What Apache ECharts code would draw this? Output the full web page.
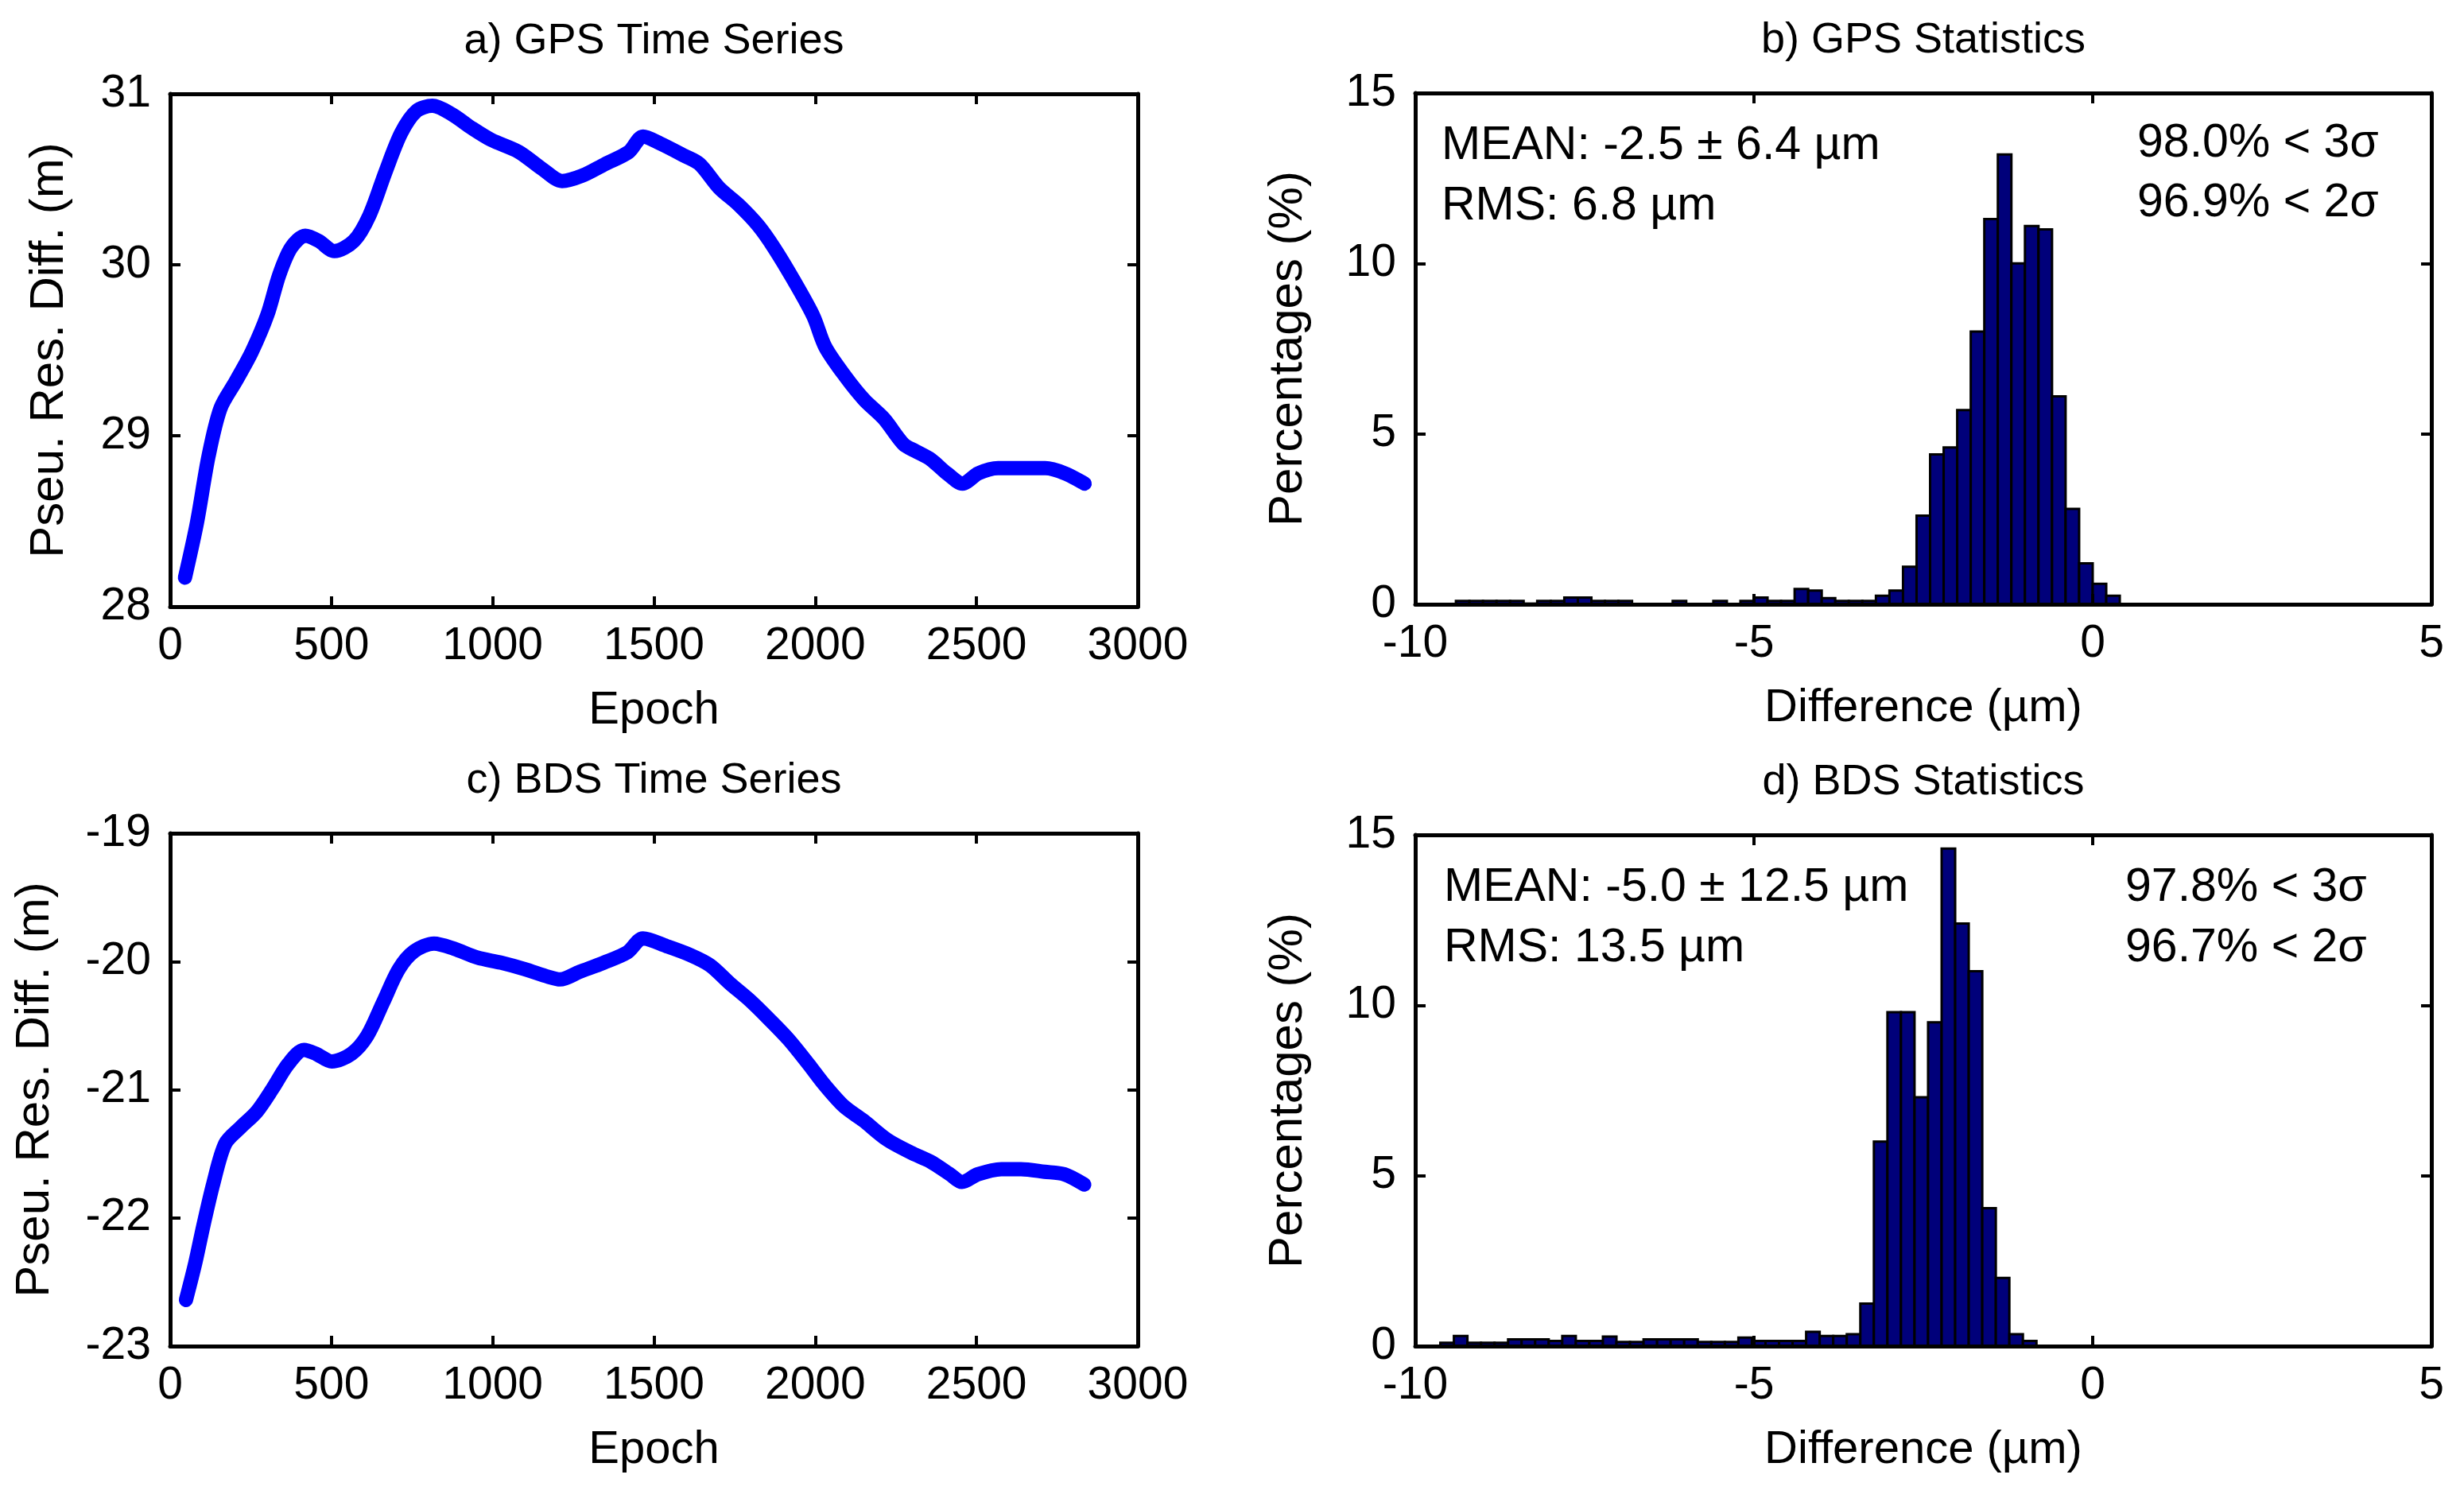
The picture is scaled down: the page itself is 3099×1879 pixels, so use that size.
<!DOCTYPE html>
<html>
<head>
<meta charset="utf-8">
<title>GPS / BDS pseudorange residual differences</title>
<script src="https://cdn.jsdelivr.net/npm/echarts@6/dist/echarts.min.js"></script>
<style>
  html, body { margin: 0; padding: 0; background: #fff; }
  #chart { width: 3099px; height: 1879px; }
</style>
</head>
<body>
<div id="chart"></div>
<script>
// ---- data ----
var gpsEpochs = [46, 83, 119, 156, 204, 253, 302, 338, 375, 419, 460, 509, 570, 618, 667, 716, 764, 813, 874, 935,
    996, 1081, 1154, 1215, 1276, 1349, 1422, 1466, 1519, 1592, 1641, 1702, 1763, 1823, 1872, 1933, 1994, 2031, 2092, 2152,
    2213, 2274, 2311, 2359, 2408, 2457, 2506, 2567, 2640, 2713, 2774, 2835];
var gpsDiff = [28.17, 28.49, 28.88, 29.16, 29.32, 29.49, 29.71, 29.94, 30.10, 30.17, 30.14, 30.08, 30.14, 30.29, 30.54, 30.77, 30.90, 30.93, 30.88, 30.80,
    30.73, 30.66, 30.56, 30.49, 30.52, 30.59, 30.66, 30.75, 30.71, 30.64, 30.59, 30.45, 30.35, 30.23, 30.10, 29.91, 29.70, 29.52, 29.35, 29.21,
    29.10, 28.95, 28.91, 28.86, 28.78, 28.72, 28.78, 28.81, 28.81, 28.81, 28.78, 28.72];

var bdsEpochs = [49, 78, 103, 134, 171, 220, 269, 318, 366, 415, 452, 501, 562, 611, 660, 709, 757, 818, 880, 953,
    1026, 1099, 1173, 1209, 1270, 1344, 1417, 1466, 1539, 1613, 1674, 1735, 1796, 1857, 1918, 1979, 2028, 2089, 2149, 2223,
    2296, 2357, 2418, 2455, 2504, 2577, 2638, 2711, 2772, 2834];
var bdsDiff = [-22.64, -22.35, -22.06, -21.73, -21.42, -21.29, -21.17, -20.99, -20.80, -20.69, -20.72, -20.78, -20.72, -20.58, -20.32, -20.06, -19.92, -19.86, -19.90, -19.97,
    -20.01, -20.06, -20.12, -20.14, -20.08, -20.01, -19.93, -19.82, -19.88, -19.95, -20.03, -20.17, -20.30, -20.45, -20.61, -20.80, -20.96, -21.13, -21.24, -21.39,
    -21.49, -21.56, -21.66, -21.72, -21.66, -21.62, -21.62, -21.64, -21.66, -21.74];

var BIN_WIDTH = 0.2;
var gpsBins = [-9.3, -9.1, -8.9, -8.7, -8.5, -8.3, -8.1, -7.9, -7.7, -7.5, -7.3, -7.1, -6.9, -6.7, -6.5, -6.3, -6.1,
    -5.9, -5.7, -5.5, -5.3, -5.1, -4.9, -4.7, -4.5, -4.3, -4.1, -3.9, -3.7, -3.5, -3.3, -3.1, -2.9,
    -2.7, -2.5, -2.3, -2.1, -1.9, -1.7, -1.5, -1.3, -1.1, -0.9, -0.7, -0.5, -0.3, -0.1, 0.1, 0.3];
var gpsPercent = [0.1, 0.1, 0.1, 0.1, 0.1, 0.02, 0.1, 0.1, 0.2, 0.2, 0.1, 0.1, 0.1, 0, 0, 0, 0.1,
    0, 0, 0.1, 0, 0.1, 0.2, 0.1, 0.1, 0.45, 0.4, 0.18, 0.1, 0.1, 0.1, 0.25, 0.4,
    1.1, 2.6, 4.4, 4.6, 5.7, 8.0, 11.3, 13.2, 10.0, 11.1, 11.0, 6.1, 2.8, 1.2, 0.6, 0.25];

var bdsBins = [-9.53, -9.33, -9.13, -8.93, -8.73, -8.53, -8.33, -8.13, -7.93, -7.73, -7.53, -7.33, -7.13, -6.93, -6.73,
    -6.53, -6.33, -6.13, -5.93, -5.73, -5.53, -5.33, -5.13, -4.93, -4.73, -4.53, -4.33, -4.13, -3.93, -3.73, -3.53,
    -3.33, -3.13, -2.93, -2.73, -2.53, -2.33, -2.13, -1.93, -1.73, -1.53, -1.33, -1.13, -0.93];
var bdsPercent = [0.1, 0.3, 0.1, 0.1, 0.1, 0.2, 0.2, 0.2, 0.15, 0.3, 0.15, 0.15, 0.28, 0.12, 0.12,
    0.2, 0.2, 0.2, 0.2, 0.12, 0.12, 0.12, 0.25, 0.15, 0.15, 0.15, 0.15, 0.42, 0.3, 0.3, 0.35,
    1.25, 6.0, 9.8, 9.8, 7.3, 9.5, 14.6, 12.4, 11.0, 4.05, 2.0, 0.35, 0.15];

var gpsStats = ['MEAN: -2.5 \u00b1 6.4 \u00b5m', 'RMS: 6.8 \u00b5m'];
var gpsSigma = ['98.0% < 3\u03c3', '96.9% < 2\u03c3'];
var bdsStats = ['MEAN: -5.0 \u00b1 12.5 \u00b5m', 'RMS: 13.5 \u00b5m'];
var bdsSigma = ['97.8% < 3\u03c3', '96.7% < 2\u03c3'];

var titles = ['a) GPS Time Series', 'b) GPS Statistics', 'c) BDS Time Series', 'd) BDS Statistics'];

// ---- layout ----
var FONT = '"Liberation Sans", Arial, Helvetica, sans-serif';
var grids = [
    { left: 214, top: 118, width: 1217, height: 645 },
    { left: 1780, top: 117, width: 1278, height: 643 },
    { left: 214, top: 1048, width: 1217, height: 645 },
    { left: 1780, top: 1050, width: 1278, height: 643 }
];

function zip(a, b) {
    var out = [];
    for (var i = 0; i < a.length; i++) out.push([a[i], b[i]]);
    return out;
}

// plain numbers, no thousands separator
function plain(v) { return String(v); }

var lineStyleAxis = { color: '#000', width: 5 };
var tickStyle = { show: true, inside: true, length: 13, lineStyle: { color: '#000', width: 4 } };

function xPair(gi, min, max, interval, name) {
    return [{
        type: 'value', gridIndex: gi, position: 'bottom', min: min, max: max, interval: interval,
        name: name, nameLocation: 'middle', nameGap: 102,
        nameTextStyle: { fontFamily: FONT, fontSize: 58, color: '#000' },
        axisLine: { show: true, onZero: false, lineStyle: lineStyleAxis },
        axisTick: tickStyle,
        axisLabel: { margin: 22, fontFamily: FONT, fontSize: 57, color: '#000', formatter: plain },
        splitLine: { show: false }, z: 5
    }, {
        type: 'value', gridIndex: gi, position: 'top', min: min, max: max, interval: interval,
        axisLine: { show: true, onZero: false, lineStyle: lineStyleAxis },
        axisTick: tickStyle, axisLabel: { show: false },
        splitLine: { show: false }, z: 5
    }];
}

function yPair(gi, min, max, interval, name, gap) {
    return [{
        type: 'value', gridIndex: gi, position: 'left', min: min, max: max, interval: interval,
        name: name, nameLocation: 'middle', nameGap: gap, nameRotate: 90,
        nameTextStyle: { fontFamily: FONT, fontSize: 60, color: '#000' },
        axisLine: { show: true, onZero: false, lineStyle: lineStyleAxis },
        axisTick: tickStyle,
        axisLabel: { margin: 24, fontFamily: FONT, fontSize: 57, color: '#000', formatter: plain },
        splitLine: { show: false }, z: 5
    }, {
        type: 'value', gridIndex: gi, position: 'right', min: min, max: max, interval: interval,
        axisLine: { show: true, onZero: false, lineStyle: lineStyleAxis },
        axisTick: tickStyle, axisLabel: { show: false },
        splitLine: { show: false }, z: 5
    }];
}

var xAxes = [].concat(
    xPair(0, 0, 3000, 500, 'Epoch'),
    xPair(1, -10, 5, 5, 'Difference (\u00b5m)'),
    xPair(2, 0, 3000, 500, 'Epoch'),
    xPair(3, -10, 5, 5, 'Difference (\u00b5m)')
);
var yAxes = [].concat(
    yPair(0, 28, 31, 1, 'Pseu. Res. Diff. (m)', 122),
    yPair(1, 0, 15, 5, 'Percentages (%)', 130),
    yPair(2, -23, -19, 1, 'Pseu. Res. Diff. (m)', 140),
    yPair(3, 0, 15, 5, 'Percentages (%)', 130)
);

function lineSeries(axisIdx, data) {
    return {
        type: 'line', xAxisIndex: axisIdx, yAxisIndex: axisIdx, data: data,
        showSymbol: false, smooth: 0.3, animation: false,
        lineStyle: { color: '#0000ff', width: 18, cap: 'round', join: 'round' }
    };
}

function histSeries(axisIdx, data) {
    return {
        type: 'custom', xAxisIndex: axisIdx, yAxisIndex: axisIdx, data: data, animation: false,
        renderItem: function (params, api) {
            var x = api.value(0), y = api.value(1);
            var p1 = api.coord([x - BIN_WIDTH / 2, y]);
            var p2 = api.coord([x + BIN_WIDTH / 2, 0]);
            return {
                type: 'rect',
                shape: { x: p1[0], y: p1[1], width: p2[0] - p1[0], height: p2[1] - p1[1] },
                style: { fill: '#00007a', stroke: '#000', lineWidth: 3 }
            };
        }
    };
}

function txt(x, y, s, align, size) {
    return {
        type: 'text', x: x, y: y, silent: true,
        style: {
            text: s, fill: '#000', font: size + 'px ' + FONT,
            align: align, textAlign: align, verticalAlign: 'middle', textVerticalAlign: 'middle'
        }
    };
}

var graphic = [];
for (var g = 0; g < 4; g++) {
    var gr = grids[g];
    graphic.push(txt(gr.left + gr.width / 2, gr.top - 66, titles[g], 'center', 54));
}
graphic.push(txt(1813, 184, gpsStats[0], 'left', 59));
graphic.push(txt(1813, 260, gpsStats[1], 'left', 59));
graphic.push(txt(2688, 181, gpsSigma[0], 'left', 59));
graphic.push(txt(2688, 256, gpsSigma[1], 'left', 59));
graphic.push(txt(1816, 1117, bdsStats[0], 'left', 59));
graphic.push(txt(1816, 1193, bdsStats[1], 'left', 59));
graphic.push(txt(2673, 1117, bdsSigma[0], 'left', 59));
graphic.push(txt(2673, 1193, bdsSigma[1], 'left', 59));

var chart = echarts.init(document.getElementById('chart'));
var option = {
    backgroundColor: '#fff',
    animation: false,
    grid: grids,
    xAxis: xAxes,
    yAxis: yAxes,
    series: [
        lineSeries(0, zip(gpsEpochs, gpsDiff)),
        histSeries(2, zip(gpsBins, gpsPercent)),
        lineSeries(4, zip(bdsEpochs, bdsDiff)),
        histSeries(6, zip(bdsBins, bdsPercent))
    ],
    graphic: graphic
};
chart.setOption(option);
</script>
</body>
</html>
